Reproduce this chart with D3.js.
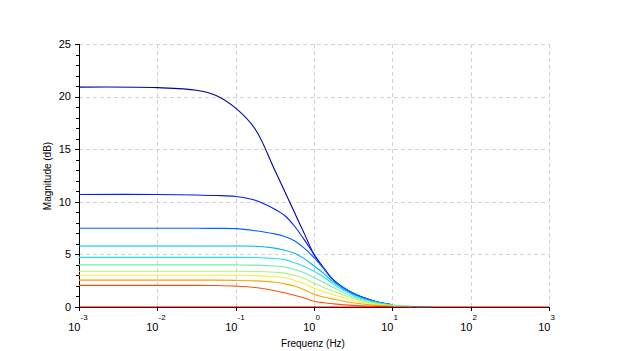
<!DOCTYPE html>
<html>
<head>
<meta charset="utf-8">
<script src="https://cdn.jsdelivr.net/npm/d3@7"></script>
<style>
  html, body { margin: 0; padding: 0; background: #fff; }
  svg { display: block; }
  text { font-family: "Liberation Sans", Arial, Helvetica, sans-serif; fill: #000; }
</style>
</head>
<body>
<svg id="chart" width="628" height="351"></svg>
<script>
// ---- data ----
const freqHz = [0.001, 0.01, 0.0316, 0.0562, 0.1, 0.178, 0.316, 0.422, 0.562, 0.75, 1, 1.33, 1.78, 3.16, 5.62, 10, 17.8, 31.6];

const mag1  = [20.9, 20.85, 20.6, 20.1, 18.9, 16.9, 13.0, 11.0, 9.0, 7.0, 5.0, 3.7, 2.55, 1.3, 0.6, 0.22, null, null];
const mag2  = [10.7, 10.7, 10.65, 10.6, 10.5, 10.15, 9.3, 8.7, 7.7, 6.4, 5.0, 3.7, 2.55, 1.3, 0.6, 0.22, null, null];
const mag3  = [7.48, 7.48, 7.48, 7.47, 7.45, 7.25, 6.95, 6.7, 6.3, 5.6, 4.7, 3.65, 2.5, 1.3, 0.6, 0.22, null, null];
const mag4  = [5.8, 5.8, 5.8, 5.8, 5.8, 5.78, 5.6, 5.4, 5.1, 4.6, 3.9, 3.2, 2.35, 1.2, 0.55, 0.2, null, null];
const mag5  = [4.72, 4.72, 4.72, 4.72, 4.72, 4.7, 4.6, 4.5, 4.2, 3.85, 3.4, 2.85, 2.15, 1.1, 0.5, 0.18, 0.06, 0.02];
const mag6  = [4.0, 4.0, 4.0, 4.0, 4.0, 3.98, 3.9, 3.8, 3.57, 3.25, 2.8, 2.35, 1.85, 0.95, 0.42, 0.15, 0.05, null];
const mag7  = [3.4, 3.4, 3.4, 3.4, 3.4, 3.38, 3.3, 3.22, 3.02, 2.7, 2.25, 1.85, 1.5, 0.8, 0.35, 0.12, 0.04, null];
const mag8  = [3.02, 3.02, 3.02, 3.02, 3.02, 2.98, 2.88, 2.78, 2.55, 2.2, 1.8, 1.45, 1.15, 0.62, 0.28, 0.1, null, null];
const mag9  = [2.55, 2.55, 2.55, 2.55, 2.53, 2.48, 2.35, 2.2, 2.0, 1.65, 1.2, 0.95, 0.75, 0.4, 0.18, 0.07, null, null];
const mag10 = [2.06, 2.06, 2.06, 2.04, 1.98, 1.85, 1.55, 1.35, 1.12, 0.85, 0.55, 0.4, 0.3, 0.15, 0.07, 0.03, null, null];

const flatFreqHz = [0.001, 1000];
const mag11 = [0, 0];

const seriesColors = ["#0000a8", "#0020f0", "#0064ff", "#00b0ff", "#20e4f0", "#78eca8", "#b4f080", "#f4f040", "#ffa400", "#ff5010", "#e00000"];

const xTickExps = [-3, -2, -1, 0, 1, 2, 3];
const yTicks = [0, 5, 10, 15, 20, 25];
const yMinorTicks = d3.range(0, 26, 1);
const xTitle = "Frequenz (Hz)";
const yTitle = "Magnitude (dB)";

// ---- drawing ----
const svg = d3.select("#chart");
const L = 79, R = 549, T = 44, B = 307;

const x = d3.scaleLog().domain([1e-3, 1e3]).range([L, R]);
const y = d3.scaleLinear().domain([0, 25]).range([B, T]);

// grid
const grid = svg.append("g").attr("stroke", "#d2d2d2").attr("stroke-width", 1).attr("stroke-dasharray", "4,3").attr("fill", "none");
xTickExps.slice(1).forEach(e => {
  const px = Math.round(x(Math.pow(10, e))) + 0.5;
  grid.append("line").attr("x1", px).attr("x2", px).attr("y1", T).attr("y2", B);
});
yTicks.slice(1).forEach(v => {
  const py = Math.round(y(v)) + 0.5;
  grid.append("line").attr("x1", L).attr("x2", R).attr("y1", py).attr("y2", py);
});

// curves
const allSeries = [
  {f: freqHz, m: mag1}, {f: freqHz, m: mag2}, {f: freqHz, m: mag3}, {f: freqHz, m: mag4},
  {f: freqHz, m: mag5}, {f: freqHz, m: mag6}, {f: freqHz, m: mag7}, {f: freqHz, m: mag8},
  {f: freqHz, m: mag9}, {f: freqHz, m: mag10}, {f: flatFreqHz, m: mag11}
];

const line = d3.line()
  .x(d => x(d[0]))
  .y(d => y(Math.max(0, d[1])))
  .curve(d3.curveCatmullRom.alpha(0.5));

// axes lines (under curves)
const axisG = svg.append("g");
axisG.append("line").attr("x1", L + 0.5).attr("x2", L + 0.5).attr("y1", T).attr("y2", B + 0.5).attr("stroke", "#000");
axisG.append("line").attr("x1", L).attr("x2", R + 0.5).attr("y1", B + 0.5).attr("y2", B + 0.5).attr("stroke", "#000");

const curves = svg.append("g").attr("fill", "none").attr("stroke-width", 1.1);
allSeries.forEach((s, i) => {
  const pts = s.f.map((f, k) => [f, s.m[k]]).filter(d => d[1] !== null);
  curves.append("path").attr("d", line(pts)).attr("stroke", seriesColors[i]);
});

// y ticks
const yt = svg.append("g");
yMinorTicks.forEach(v => {
  const py = Math.round(y(v)) + 0.5;
  const major = v % 5 === 0;
  yt.append("line").attr("x1", L - (major ? 4 : 3)).attr("x2", L).attr("y1", py).attr("y2", py).attr("stroke", "#000");
});
yTicks.forEach(v => {
  yt.append("text").attr("x", L - 8).attr("y", y(v)).attr("dy", "0.35em")
    .attr("text-anchor", "end").attr("font-size", 11).text(v);
});

// x ticks
const xt = svg.append("g");
xTickExps.forEach(e => {
  const px = Math.round(x(Math.pow(10, e))) + 0.5;
  xt.append("line").attr("x1", px).attr("x2", px).attr("y1", B).attr("y2", B + 4).attr("stroke", "#000");
  xt.append("text").attr("x", px + 1).attr("y", 331).attr("text-anchor", "end").attr("font-size", 11).text("10");
  xt.append("text").attr("x", px + 1).attr("y", 320).attr("text-anchor", "start").attr("font-size", 8).text(e);
});

// titles
svg.append("text").attr("x", 313).attr("y", 347).attr("text-anchor", "middle").attr("font-size", 10).text(xTitle);
svg.append("text").attr("transform", "translate(51,176) rotate(-90)").attr("text-anchor", "middle").attr("font-size", 10).text(yTitle);
</script>
</body>
</html>
